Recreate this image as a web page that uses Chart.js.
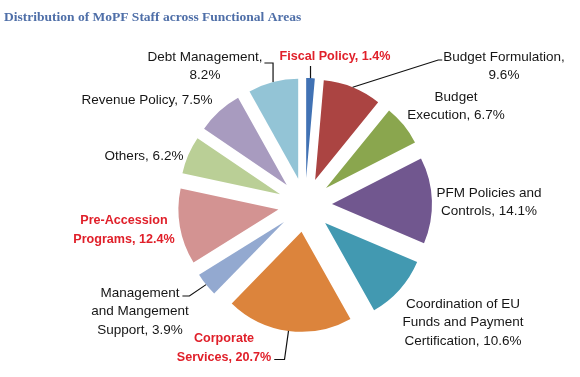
<!DOCTYPE html>
<html><head><meta charset="utf-8">
<script src="https://cdn.jsdelivr.net/npm/chart.js@4.4.0/dist/chart.umd.min.js"></script>
<style>html,body{margin:0;padding:0;background:#fff;}#wrap{width:580px;height:377px;position:relative;}</style>
</head><body><div id="wrap"><canvas id="c" width="580" height="377"></canvas></div>
<script>
// ---- data ----
const chartTitle = 'Distribution of MoPF Staff across Functional Areas';
const categories = ['Fiscal Policy', 'Budget Formulation', 'Budget Execution', 'PFM Policies and Controls',
  'Coordination of EU Funds and Payment Certification', 'Corporate Services', 'Management and Mangement Support',
  'Pre-Accession Programs', 'Others', 'Revenue Policy', 'Debt Management'];
const shares = [1.4, 9.6, 6.7, 14.1, 10.6, 20.7, 3.9, 12.4, 6.2, 7.5, 8.2];
const highlighted = ['Fiscal Policy', 'Corporate Services', 'Pre-Accession Programs'];

// ---- styles / layout ----
const sliceColors = ['#4172b4', '#ab4442', '#8aa64e', '#71578f', '#4299b1', '#dc843c',
  '#93a9d0', '#d39392', '#bacf96', '#a89bbf', '#93c4d6'];
const EXPLODE = 27;
const PIE_RADIUS = 100;
// dx, dy: first-line centre relative to pie centre; breaks: word counts after which a line ends
const labelLayout = [
  { dx: 30,   dy: -148, breaks: [],     leader: 'up' },
  { dx: 199,  dy: -148, breaks: [2],    leader: 'left' },
  { dx: 151,  dy: -108, breaks: [1],    leader: null },
  { dx: 184,  dy: -12,  breaks: [3],    leader: null },
  { dx: 158,  dy: 99,   breaks: [3, 6], leader: null },
  { dx: -81,  dy: 134,  breaks: [1],    leader: 'lastRight' },
  { dx: -165, dy: 88,   breaks: [1, 3], leader: 'firstRight' },
  { dx: -181, dy: 16,   breaks: [1],    leader: null },
  { dx: -161, dy: -49,  breaks: [],     leader: null },
  { dx: -158, dy: -105, breaks: [],     leader: null },
  { dx: -100, dy: -148, breaks: [2],    leader: 'upRight' }
];
const LINE_H = 18.5;

function labelText(i) {
  const words = (categories[i] + ', ' + shares[i].toFixed(1) + '%').split(' ');
  const lines = []; let cur = [];
  const br = labelLayout[i].breaks;
  words.forEach((w, k) => { cur.push(w); if (br.includes(k + 1)) { lines.push(cur.join(' ')); cur = []; } });
  if (cur.length) lines.push(cur.join(' '));
  return lines;
}

const explodePlugin = {
  id: 'explode',
  afterDatasetUpdate(chart, args) {
    chart.getDatasetMeta(args.index).data.forEach(arc => {
      const mid = (arc.startAngle + arc.endAngle) / 2;
      arc.x += Math.cos(mid) * EXPLODE;
      arc.y += Math.sin(mid) * EXPLODE;
    });
  }
};

const labelPlugin = {
  id: 'pieLabels',
  afterDraw(chart) {
    const ctx = chart.ctx;
    const area = chart.chartArea;
    const cx = (area.left + area.right) / 2, cy = (area.top + area.bottom) / 2;
    ctx.save();
    // title
    ctx.font = 'bold 13.5px "Liberation Serif", "Times New Roman", serif';
    ctx.fillStyle = '#4f6fa8';
    ctx.textAlign = 'left'; ctx.textBaseline = 'middle';
    ctx.fillText(chartTitle, 4, 18);

    chart.getDatasetMeta(0).data.forEach((arc, i) => {
      const L = labelLayout[i];
      const lines = labelText(i);
      const hi = highlighted.includes(categories[i]);
      ctx.font = (hi ? 'bold 12.6px' : '13.5px') + ' "Liberation Sans", Arial, sans-serif';
      ctx.fillStyle = hi ? '#e0202a' : '#161616';
      ctx.textAlign = 'center'; ctx.textBaseline = 'middle';
      const lx = cx + L.dx, ly = cy + L.dy;
      const widths = lines.map(t => ctx.measureText(t).width);
      lines.forEach((t, k) => ctx.fillText(t, lx, ly + k * LINE_H));

      if (!L.leader) return;
      const mid = (arc.startAngle + arc.endAngle) / 2;
      const ex = arc.x + Math.cos(mid) * arc.outerRadius;
      const ey = arc.y + Math.sin(mid) * arc.outerRadius;
      ctx.strokeStyle = '#111'; ctx.lineWidth = 1.2;
      ctx.beginPath();
      ctx.moveTo(ex, ey);
      if (L.leader === 'up') {
        ctx.lineTo(ex, ly + 9);
      } else if (L.leader === 'left') {
        const left = lx - widths[0] / 2, y = ly + 3;
        ctx.lineTo(left - 5, y); ctx.lineTo(left - 1, y);
      } else if (L.leader === 'upRight') {
        const right = lx + widths[0] / 2, y = ly + 6;
        ctx.lineTo(ex, y); ctx.lineTo(right + 2, y);
      } else if (L.leader === 'lastRight') {
        const n = lines.length - 1;
        const right = lx + widths[n] / 2, y = ly + n * LINE_H + 2;
        ctx.lineTo(ex - 4, y); ctx.lineTo(right + 3, y);
      } else if (L.leader === 'firstRight') {
        const right = lx + widths[0] / 2, y = ly + 3;
        ctx.lineTo(right + 10, y); ctx.lineTo(right + 3, y);
      }
      ctx.stroke();
    });
    ctx.restore();
  }
};

new Chart(document.getElementById('c'), {
  type: 'pie',
  data: {
    labels: categories,
    datasets: [{ data: shares, backgroundColor: sliceColors, borderWidth: 0, radius: PIE_RADIUS }]
  },
  options: {
    responsive: false,
    animation: false,
    radius: PIE_RADIUS,
    layout: { padding: { left: 30, top: 33, right: 0, bottom: 0 } },
    plugins: { legend: { display: false }, tooltip: { enabled: false }, title: { display: false } }
  },
  plugins: [explodePlugin, labelPlugin]
});
</script>
</body></html>
